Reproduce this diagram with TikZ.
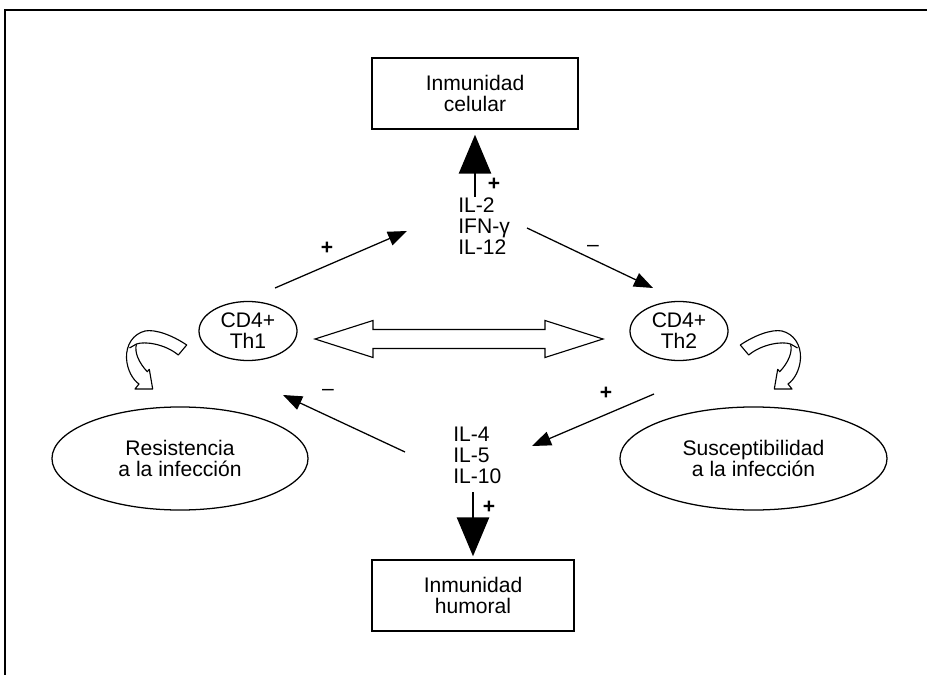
\documentclass[tikz,border=0pt]{standalone}
\usepackage{fontspec}
\setmainfont{Liberation Sans}
\usetikzlibrary{positioning,shapes.geometric,arrows.meta}
\tikzset{thin edge/.style = {-{Triangle[length=4.75mm,width=3.6mm]}, line width=0.9pt}}
\tikzset{big edge/.style = {-{Triangle[length=9.75mm,width=8mm]}, line width=2pt}}
\tikzset{curl/.style = {line width=0.8pt, fill=white, line join=round}}

\begin{document}
\begin{tikzpicture}[x=0.025cm,y=-0.025cm,font=\fontsize{15}{15}\selectfont,
    box node/.style={rectangle,draw,line width=1pt,minimum width=5.15cm,minimum height=1.775cm,align=center},
    cell node/.style={ellipse,draw,line width=0.9pt,minimum width=2.45cm,minimum height=1.475cm,inner sep=0pt,align=center},
    outcome node/.style={ellipse,draw,line width=0.9pt,minimum width=6.4cm,minimum height=2.575cm,inner sep=0pt,align=center},
    cyto node/.style={align=left,inner sep=0pt,anchor=north west},
    sign/.style={inner sep=0pt,font=\fontsize{15}{15}\selectfont\bfseries}]
  \useasboundingbox (0,0) rectangle (927,675);
  \draw[line width=1pt] (5,675) -- (5,10) -- (927,10);

  \node[box node] (cel) at (475,93.5) {Inmunidad\\celular};
  \node[box node, minimum width=5.05cm] (hum) at (473,595.5) {Inmunidad\\humoral};
  \node[cell node] (th1) at (248,331) {CD4+\\Th1};
  \node[cell node] (th2) at (679,331) {CD4+\\Th2};
  \node[outcome node] (res) at (180,458.5) {Resistencia\\a la infección};
  \node[outcome node, minimum width=6.675cm] (sus) at (753.5,458.5) {Susceptibilidad\\a la infección};
  \node[cyto node] (cyt1) at (458,197) {IL-2\\IFN-γ\\IL-12};
  \node[cyto node] (cyt2) at (453,427) {IL-4\\IL-5\\IL-10};

  % gruesas
  \draw[big edge, shorten >=1.25mm] (cyt1.north -| cel.south) -- (cel.south);
  \node[sign] (p1) at (494,184) {+};
  \draw[big edge, shorten <=2mm, shorten >=0.75mm] (cyt2.south -| hum.north) -- (hum.north);
  \node[sign] (p2) at (489,507) {+};

  % finas
  \coordinate (a1) at (275,288); \coordinate (b1) at (407,231);
  \coordinate (a2) at (527,228); \coordinate (b2) at (653,288);
  \coordinate (a3) at (405,452); \coordinate (b3) at (283,395);
  \coordinate (a4) at (654,394); \coordinate (b4) at (532,446);
  \draw[thin edge] (a1) -- (b1);
  \draw[thin edge] (a2) -- (b2);
  \draw[thin edge] (a3) -- (b3);
  \draw[thin edge] (a4) -- (b4);
  \node[sign] (s1) at (327,248) {+};
  \node[sign, font=\fontsize{15}{15}\selectfont] (s2) at (593,248) {–};
  \node[sign, font=\fontsize{15}{15}\selectfont] (s3) at (328,392) {–};
  \node[sign] (s4) at (606,393) {+};

  % doble flecha
  \draw[line width=0.8pt] (315,339) -- (373,320.5) -- (373,329.5) -- (545,329.5) -- (545,320.5) -- (603,339)
    -- (545,357.5) -- (545,348.5) -- (373,348.5) -- (373,357.5) -- cycle;

  % flechas curvas
  \draw[curl] (186.7,345) .. controls (172,335) and (155,329) .. (145,331)
    .. controls (133,334) and (126,345) .. (126.5,358) .. controls (127,370) and (133,380) .. (139,384)
    -- (135,389) -- (152.7,389) -- (149.3,369.3) -- (147.3,371.7)
    .. controls (139,363) and (134,352) .. (136.5,344) .. controls (145,341) and (165,344) .. (178.3,355) -- cycle;
  \draw[curl] (136.5,344) -- (129.5,348);
  \draw[curl] (740.3,345) .. controls (755,335) and (772,329) .. (782,331)
    .. controls (794,334) and (801,345) .. (800.5,358) .. controls (800,370) and (794,380) .. (788,384)
    -- (792,389) -- (774.3,389) -- (777.7,369.3) -- (779.7,371.7)
    .. controls (788,363) and (793,352) .. (790.5,344) .. controls (782,341) and (762,344) .. (748.7,355) -- cycle;
  \draw[curl] (790.5,344) -- (797.5,348);
\end{tikzpicture}
\end{document}
